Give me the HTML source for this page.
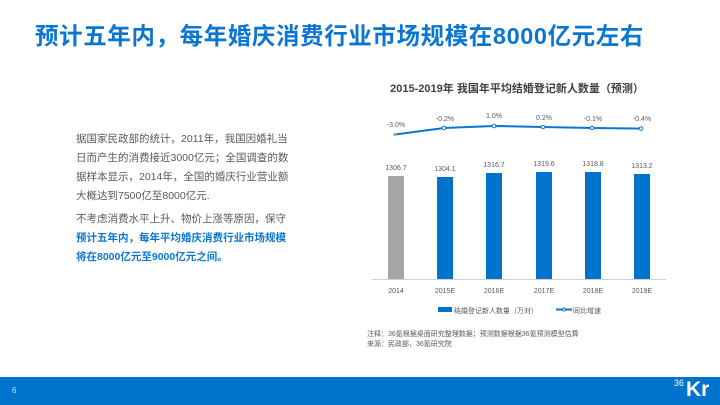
<!DOCTYPE html>
<html><head><meta charset="utf-8"><style>
body{margin:0;width:720px;height:405px;position:relative;background:#fff;font-family:"Liberation Sans","Noto Sans CJK SC",sans-serif;overflow:hidden}
.t{position:absolute;left:35px;top:17px;font-size:23.5px;font-weight:bold;color:#0a76d2;letter-spacing:0.6px;white-space:nowrap}
.p{position:absolute;left:76px;top:130px;width:220px;font-size:10.5px;line-height:19px;color:#595959}
.p b{color:#0a76d2}
.foot{position:absolute;left:0;top:377px;width:720px;height:28px;background:#0074cc}
</style></head><body>
<div class="t">预计五年内，每年婚庆消费行业市场规模在8000亿元左右</div>
<div class="p">据国家民政部的统计，2011年，我国因婚礼当日而产生的消费接近3000亿元；全国调查的数据样本显示，2014年，全国的婚庆行业营业额大概达到7500亿至8000亿元.<div style="height:4px"></div>不考虑消费水平上升、物价上涨等原因，保守<b>预计五年内，每年平均婚庆消费行业市场规模将在8000亿元至9000亿元之间。</b></div>
<svg width="720" height="405" style="position:absolute;left:0;top:0" font-family="Liberation Sans,Noto Sans CJK SC,sans-serif">
<text x="517" y="92" text-anchor="middle" font-size="11" font-weight="bold" fill="#404040">2015-2019年 我国年平均结婚登记新人数量（预测）</text>
<line x1="372" y1="279.5" x2="666" y2="279.5" stroke="#d0d0d0"/>
<rect x="388" y="176" width="16" height="103" fill="#a6a6a6"/>
<rect x="437" y="177" width="16" height="102" fill="#0074cc"/>
<rect x="486" y="173" width="16" height="106" fill="#0074cc"/>
<rect x="536" y="172" width="16" height="107" fill="#0074cc"/>
<rect x="585" y="172" width="16" height="107" fill="#0074cc"/>
<rect x="634" y="174" width="16" height="105" fill="#0074cc"/>
<g font-size="7" fill="#595959" text-anchor="middle">
<text x="396" y="170">1306.7</text><text x="445" y="171">1304.1</text><text x="494" y="167">1316.7</text><text x="544" y="166">1319.6</text><text x="593" y="166">1318.8</text><text x="642" y="168">1313.2</text>
<text x="396" y="293">2014</text><text x="445" y="293">2015E</text><text x="494" y="293">2016E</text><text x="544" y="293">2017E</text><text x="593" y="293">2018E</text><text x="642" y="293">2019E</text>
<text x="396" y="127">-3.0%</text><text x="445" y="121">-0.2%</text><text x="494" y="118">1.0%</text><text x="544" y="120">0.2%</text><text x="593" y="121">-0.1%</text><text x="642" y="121">-0.4%</text>
</g>
<polyline points="395,134.5 444,128 494,126 543,127 592,128 641,128.5" fill="none" stroke="#0a76d2" stroke-width="2"/>
<g fill="#fff" stroke="#0a76d2" stroke-width="1"><circle cx="444" cy="128" r="1.8"/><circle cx="494" cy="126" r="1.8"/><circle cx="543" cy="127" r="1.8"/><circle cx="592" cy="128" r="1.8"/><circle cx="641" cy="128.5" r="1.8"/></g>
<circle cx="395" cy="134.5" r="1.8" fill="#a6a6a6"/>
<rect x="438" y="307" width="14" height="5" fill="#0074cc"/>
<text x="454" y="313" font-size="7" fill="#595959">结婚登记新人数量（万对）</text>
<line x1="556" y1="309.5" x2="572" y2="309.5" stroke="#0a76d2" stroke-width="2"/><circle cx="564" cy="309.5" r="1.5" fill="#fff" stroke="#0a76d2"/>
<text x="573" y="313" font-size="7" fill="#595959">同比增速</text>
<text x="367" y="336" font-size="7" fill="#595959">注释：36氪根据桌面研究整理数据；预测数据根据36氪预测模型估算</text>
<text x="367" y="346" font-size="7" fill="#595959">来源：民政部，36氪研究院</text>
</svg>
<div class="foot"><span style="position:absolute;left:12px;top:9px;color:#cfe3f5;font-size:8px">6</span><span style="position:absolute;left:674px;top:1px;color:#fff;font-size:9px">36</span><span style="position:absolute;left:686px;top:1px;color:#fff;font-size:21px;font-weight:bold">Kr</span></div>
</body></html>
